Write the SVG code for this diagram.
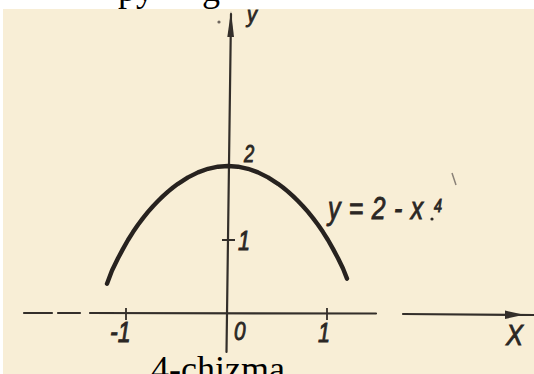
<svg xmlns="http://www.w3.org/2000/svg" width="534" height="374" viewBox="0 0 534 374">
  <style>
    .ax{stroke:#332e2a;stroke-width:2.2;fill:none;stroke-linecap:round}
    .tk{stroke:#332e2a;stroke-width:1.8;fill:none}
    .crv{stroke:#27221f;stroke-width:4.4;fill:none;stroke-linecap:round;stroke-linejoin:round}
    .lb{font-family:"Liberation Sans","DejaVu Sans",sans-serif;font-style:italic;fill:#2b2724;stroke:#2b2724;stroke-width:0.9}
    .pg{font-family:"Liberation Serif","Times New Roman",serif;fill:#000}
  </style>
  <rect x="0" y="0" width="534" height="374" fill="#ffffff"/>
  <rect x="3" y="9" width="531" height="365" fill="#f8eed6"/>
  <text class="pg" font-size="36"><tspan x="118" y="1">py</tspan><tspan x="202" y="1">g</tspan></text>

  <g id="connectors">
    <path class="ax" d="M231,14 L226.5,352"/>
    <polygon points="231,11 227.3,37 234,37" fill="#332e2a"/>
    <path class="ax" d="M24,313 L52,313 M58,313 L80,313 M90,313 L376,313.5 M403,314 L534,315"/>
    <polygon points="524,314.8 505,310.5 505,319" fill="#332e2a"/>
  </g>

  <g id="ticks">
    <path class="tk" d="M126,308 L126,320 M327,308 L327,320 M222,240 L235,240"/>
  </g>

  <g id="curve">
    <polyline class="crv" points="107,283.7 112,270.5 118,258.3 123,248.9 128,240 133,232.1 138,224.8 143,218.1 148,211.9 153,206.2 158,201 163,196.1 168,191.6 173,187.5 178,183.8 188,177.4 198,172.4 208,168.8 218,166.7 228,166 238,166.7 248,168.8 258,172.4 268,177.4 278,183.8 283,187.5 288,191.6 293,196.1 298,201 303,206.2 308,211.9 313,218.1 318,224.8 323,232.1 328,240 333,248.9 338,258.3 343,268.5 347,278.6"/>
  </g>

  <g id="labels">
    <text class="lb" transform="translate(247,22) scale(0.9,1)" font-size="22">y</text>
    <text class="lb" transform="translate(244,162) scale(0.8,1)" font-size="23">2</text>
    <text class="lb" transform="translate(238,250) scale(0.8,1)" font-size="27">1</text>
    <text class="lb" transform="translate(110,342) scale(0.8,1)" font-size="29">-1</text>
    <text class="lb" transform="translate(234,340) scale(0.8,1)" font-size="26">0</text>
    <text class="lb" transform="translate(318,342) scale(0.8,1)" font-size="27">1</text>
    <text class="lb" transform="translate(506,345) scale(0.85,1)" font-size="30">X</text>
    <text class="lb" transform="translate(328,219) scale(0.8,1)" font-size="31" textLength="119" lengthAdjust="spacing">y=2-x</text>
    <text class="lb" transform="translate(434,212) scale(0.8,1)" font-size="18">4</text>
    <circle cx="432" cy="219" r="1.6" fill="#2b2724"/>
  </g>

  <g id="marks" fill="#6e665e">
    <circle cx="219" cy="22" r="1.6"/>
    <path d="M452,173 L456,185" stroke="#8a8178" stroke-width="1.5"/>
  </g>

  <text class="pg" x="151" y="381" font-size="36">4-chizma</text>
</svg>
